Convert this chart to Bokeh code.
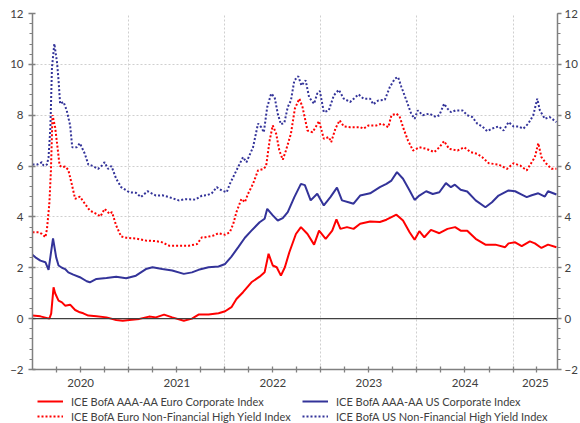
import pandas as pd
from bokeh.plotting import figure
from bokeh.layouts import column
from bokeh.models import (Range1d, LinearAxis, FixedTicker, SingleIntervalTicker, Grid,
                          CustomJSTickFormatter, Legend, LegendItem, Span)
from bokeh.embed import file_html
from bokeh.resources import INLINE

# ---------------- data ----------------
ec_dates = ["2020-01-01","2020-01-31","2020-02-19","2020-03-05","2020-03-12","2020-03-21","2020-03-27",
            "2020-04-09","2020-04-22","2020-05-04","2020-05-23","2020-06-11","2020-06-29","2020-07-12",
            "2020-07-31","2020-08-31","2020-10-08","2020-11-14","2020-12-09","2021-01-03","2021-02-10",
            "2021-03-19","2021-04-14","2021-05-15","2021-06-15","2021-07-29","2021-08-29","2021-09-23",
            "2021-10-31","2021-12-08","2022-01-02","2022-01-26","2022-02-14","2022-03-11","2022-04-12",
            "2022-05-13","2022-06-01","2022-06-16","2022-07-02","2022-07-17","2022-08-02","2022-08-17",
            "2022-09-03","2022-09-28","2022-10-17","2022-11-11","2022-12-06","2022-12-25","2023-01-19",
            "2023-02-13","2023-03-01","2023-03-16","2023-04-10","2023-05-05","2023-05-30","2023-07-07",
            "2023-08-13","2023-09-07","2023-10-15","2023-11-09","2023-12-04","2023-12-23","2024-01-10",
            "2024-01-29","2024-02-23","2024-03-26","2024-04-26","2024-05-25","2024-06-15","2024-07-10",
            "2024-08-11","2024-09-17","2024-10-25","2024-12-01","2024-12-14","2025-01-08","2025-02-02",
            "2025-03-05","2025-03-24","2025-04-18","2025-05-13","2025-06-14"]
ec_vals = [0.12,0.09,0.04,0.0,0.2,1.23,1.0,
           0.71,0.64,0.51,0.55,0.34,0.25,0.21,
           0.12,0.09,0.05,-0.05,-0.08,-0.05,-0.01,
           0.08,0.05,0.16,0.05,-0.08,0.0,0.16,
           0.16,0.21,0.29,0.45,0.77,1.04,1.43,
           1.65,1.82,2.55,2.09,2.02,1.69,2.02,
           2.61,3.33,3.6,3.33,2.91,3.46,3.14,
           3.46,3.9,3.53,3.6,3.53,3.73,3.82,
           3.8,3.89,4.09,3.86,3.4,3.1,3.44,
           3.2,3.49,3.36,3.53,3.6,3.46,3.46,
           3.14,2.91,2.91,2.81,2.96,3.0,2.85,
           3.04,2.96,2.78,2.91,2.81]

uc_dates = ["2020-01-01","2020-01-12","2020-01-31","2020-02-19","2020-03-02","2020-03-19","2020-03-31",
            "2020-04-09","2020-04-22","2020-05-04","2020-05-16","2020-06-04","2020-06-29","2020-07-25",
            "2020-08-06","2020-08-31","2020-10-08","2020-11-14","2020-12-22","2021-01-28","2021-03-07",
            "2021-04-01","2021-05-08","2021-06-15","2021-07-29","2021-08-29","2021-09-23","2021-10-31",
            "2021-12-08","2022-01-02","2022-01-26","2022-02-21","2022-03-18","2022-04-12","2022-05-13",
            "2022-06-01","2022-06-11","2022-07-02","2022-07-21","2022-08-09","2022-08-28","2022-09-22",
            "2022-10-17","2022-11-01","2022-11-23","2022-12-18","2023-01-12","2023-02-06","2023-03-03",
            "2023-03-22","2023-04-16","2023-05-05","2023-05-30","2023-07-07","2023-08-13","2023-09-07",
            "2023-09-26","2023-10-17","2023-11-09","2023-12-04","2023-12-23","2024-01-10","2024-02-05",
            "2024-03-01","2024-03-26","2024-04-20","2024-05-09","2024-05-24","2024-06-15","2024-07-10",
            "2024-08-11","2024-09-17","2024-10-12","2024-11-06","2024-12-14","2025-01-08","2025-02-02",
            "2025-02-21","2025-03-12","2025-04-06","2025-05-01","2025-05-13","2025-06-14"]
uc_vals = [2.51,2.41,2.28,2.22,1.92,3.16,2.41,
           2.09,2.0,1.95,1.82,1.73,1.63,1.47,
           1.43,1.56,1.6,1.65,1.59,1.69,1.95,
           2.02,1.95,1.89,1.76,1.82,1.92,2.02,
           2.05,2.15,2.44,2.81,3.18,3.46,3.79,
           3.93,4.32,4.06,3.86,3.95,4.19,4.78,
           5.3,5.25,4.65,4.91,4.45,4.78,5.15,
           4.65,4.58,4.52,4.84,4.93,5.17,5.3,
           5.43,5.76,5.5,5.04,4.67,4.84,5.01,
           4.9,4.97,5.33,5.17,5.27,5.07,5.0,
           4.65,4.38,4.58,4.84,5.04,5.01,4.88,
           4.78,4.85,4.93,4.8,5.01,4.88]

eh_dates = ["2020-01-01","2020-01-25","2020-02-06","2020-02-19","2020-02-25","2020-03-05","2020-03-11",
            "2020-03-17","2020-03-27","2020-04-05","2020-04-13","2020-04-22","2020-05-04","2020-05-16",
            "2020-05-29","2020-06-11","2020-06-29","2020-07-18","2020-08-06","2020-08-31","2020-09-15",
            "2020-10-01","2020-10-20","2020-10-29","2020-11-14","2020-12-03","2020-12-22","2021-01-28",
            "2021-03-07","2021-04-14","2021-05-08","2021-06-03","2021-07-10","2021-08-17","2021-09-17",
            "2021-10-06","2021-10-19","2021-11-19","2021-12-08","2022-01-02","2022-01-20","2022-02-02",
            "2022-02-14","2022-03-05","2022-03-18","2022-03-30","2022-04-18","2022-05-07","2022-05-29",
            "2022-06-07","2022-06-20","2022-07-02","2022-07-15","2022-07-27","2022-08-09","2022-08-21",
            "2022-09-09","2022-09-24","2022-10-11","2022-10-23","2022-11-11","2022-11-30","2022-12-12",
            "2022-12-25","2023-01-12","2023-01-31","2023-02-09","2023-02-25","2023-03-13","2023-03-29",
            "2023-04-22","2023-05-30","2023-06-12","2023-07-01","2023-08-01","2023-08-20","2023-09-14",
            "2023-09-26","2023-10-15","2023-10-27","2023-11-09","2023-11-28","2023-12-17","2024-01-10",
            "2024-02-05","2024-03-07","2024-03-26","2024-04-13","2024-05-02","2024-06-03","2024-06-28",
            "2024-07-23","2024-08-17","2024-09-05","2024-09-30","2024-11-06","2024-12-08","2025-01-02",
            "2025-01-27","2025-02-21","2025-03-12","2025-03-24","2025-04-06","2025-04-18","2025-05-07",
            "2025-05-26","2025-06-14"]
eh_vals = [3.4,3.4,3.33,3.2,3.53,4.52,5.83,
           8.0,7.53,6.74,6.02,5.96,5.98,5.85,
           5.3,4.71,4.8,4.52,4.25,4.12,4.02,
           4.32,4.12,4.19,3.66,3.23,3.18,3.15,
           3.07,3.05,3.0,2.87,2.87,2.87,2.93,
           3.2,3.2,3.27,3.36,3.3,3.4,3.73,
           4.19,4.71,4.58,4.91,5.3,5.83,5.89,
           6.02,7.0,7.6,7.27,6.61,6.25,6.61,
           7.27,8.26,8.65,8.32,7.4,7.33,7.53,
           7.77,7.07,7.14,6.94,7.47,7.8,7.56,
           7.53,7.53,7.47,7.6,7.6,7.67,7.53,
           8.0,8.06,7.95,7.53,7.0,6.61,6.74,
           6.68,6.55,6.74,6.98,6.68,6.61,6.74,
           6.55,6.48,6.35,6.11,6.06,5.89,6.11,
           6.02,5.83,6.15,6.35,6.9,6.35,6.09,
           5.89,5.89]

uh_dates = ["2020-01-01","2020-01-19","2020-02-06","2020-02-12","2020-02-25","2020-03-02","2020-03-09",
            "2020-03-15","2020-03-24","2020-04-03","2020-04-09","2020-04-15","2020-04-28","2020-05-10",
            "2020-05-23","2020-05-31","2020-06-17","2020-06-29","2020-07-18","2020-07-31","2020-08-18",
            "2020-09-06","2020-09-19","2020-10-01","2020-10-14","2020-10-27","2020-11-14","2020-12-03",
            "2021-01-03","2021-01-28","2021-02-16","2021-03-13","2021-04-14","2021-05-08","2021-06-03",
            "2021-07-10","2021-08-04","2021-09-11","2021-10-06","2021-10-25","2021-11-12","2021-12-01",
            "2021-12-20","2022-01-08","2022-01-20","2022-02-14","2022-03-11","2022-03-24","2022-04-18",
            "2022-05-07","2022-05-19","2022-05-29","2022-06-11","2022-06-26","2022-07-09","2022-07-21",
            "2022-08-02","2022-08-15","2022-08-28","2022-09-09","2022-09-22","2022-10-07","2022-10-19",
            "2022-11-04","2022-11-17","2022-12-06","2022-12-18","2022-12-28","2023-01-12","2023-01-31",
            "2023-02-19","2023-03-10","2023-03-29","2023-04-22","2023-05-24","2023-06-12","2023-07-07",
            "2023-07-19","2023-08-07","2023-09-01","2023-09-20","2023-10-09","2023-10-21","2023-11-03",
            "2023-11-22","2023-12-10","2023-12-23","2024-01-04","2024-01-23","2024-02-17","2024-03-13",
            "2024-03-26","2024-04-13","2024-04-26","2024-05-09","2024-05-27","2024-06-22","2024-07-10",
            "2024-07-29","2024-08-17","2024-09-05","2024-09-24","2024-10-12","2024-11-06","2024-11-25",
            "2024-12-14","2025-01-02","2025-01-20","2025-02-08","2025-02-27","2025-03-18","2025-04-02",
            "2025-04-12","2025-05-01","2025-05-19","2025-06-14"]
uh_vals = [6.06,6.06,6.15,6.02,6.06,6.35,7.53,
           9.89,10.81,10.09,9.37,8.45,8.52,8.19,
           7.6,6.74,6.74,6.9,6.48,6.06,6.0,
           5.89,6.0,6.15,5.89,6.0,5.5,5.17,
           4.97,4.95,4.78,5.01,4.84,4.85,4.78,
           4.65,4.7,4.68,4.84,4.85,4.93,5.17,
           5.04,4.97,5.3,5.83,6.35,6.15,6.74,
           7.67,7.53,7.33,8.32,8.85,8.71,8.06,
           7.64,7.7,8.32,8.58,9.37,9.53,9.17,
           9.37,8.71,8.45,8.85,8.95,8.12,8.19,
           8.78,9.0,8.65,8.52,8.82,8.65,8.65,
           8.43,8.58,8.61,9.11,9.44,9.5,9.11,
           8.58,8.06,7.86,8.19,8.0,8.06,7.93,
           8.0,8.45,8.26,8.12,8.19,8.19,8.0,
           7.93,7.67,7.56,7.37,7.47,7.56,7.4,
           7.73,7.56,7.56,7.47,7.67,8.0,8.65,
           8.19,7.86,7.93,7.73]

series_labels = ["ICE BofA AAA-AA Euro Corporate Index",
                 "ICE BofA AAA-AA US Corporate Index",
                 "ICE BofA Euro Non-Financial High Yield Index",
                 "ICE BofA US Non-Financial High Yield Index"]
year_labels = [2020, 2021, 2022, 2023, 2024, 2025]
x_start = "2020-01-01"
x_end = "2025-06-18"

# ---------------- helpers ----------------
def ms(s):
    return pd.Timestamp(s).value / 1e6

RED = "#FF0000"
BLUE = "#333399"
FONT = "Lato"
TXT = "#404040"
AX = "#808080"
W = 580

p = figure(width=W, height=390, x_axis_type=None, y_axis_type=None,
           x_range=Range1d(ms(x_start), ms(x_end)), y_range=Range1d(-2, 12),
           output_backend="svg", toolbar_location=None)
p.outline_line_color = None
p.min_border_left = 32
p.min_border_right = 0
p.min_border_top = 13
p.min_border_bottom = 21
p.background_fill_color = "white"

# ticks
boundaries = [ms(f"{y}-01-01") for y in year_labels[1:]]
quarters = [ms(f"{y}-{m:02d}-01") for y in year_labels for m in (4, 7, 10)
            if ms(f"{y}-{m:02d}-01") < ms(x_end)]
label_pos = []
for y in year_labels:
    a = ms(f"{y}-01-01")
    b = min(ms(f"{y+1}-01-01"), ms(x_end))
    label_pos.append((a + b) / 2)

# grids
p.add_layout(Grid(dimension=1, ticker=SingleIntervalTicker(interval=2),
                  grid_line_color="#cfcfcf", grid_line_dash="2 2", grid_line_width=1))
p.add_layout(Grid(dimension=0, ticker=FixedTicker(ticks=boundaries),
                  grid_line_color="#cfcfcf", grid_line_dash="2 2", grid_line_width=1))
p.add_layout(Span(location=0, dimension="width", line_color="#404040", line_width=1.2))

# lines
series = [(ec_dates, ec_vals), (uc_dates, uc_vals), (eh_dates, eh_vals), (uh_dates, uh_vals)]
line_styles = [dict(line_color=RED, line_width=2),
               dict(line_color=BLUE, line_width=2),
               dict(line_color=RED, line_width=2, line_dash="2 2"),
               dict(line_color=BLUE, line_width=2, line_dash="2 2")]
for (d, v), st in zip(series, line_styles):
    p.line(pd.to_datetime(d), v, **st)

# x axis: year labels centred in each year; year and quarter tick marks as minor ticks
xaxis = LinearAxis(ticker=FixedTicker(ticks=label_pos, minor_ticks=sorted(boundaries + quarters)),
                   formatter=CustomJSTickFormatter(code="return String(new Date(tick).getUTCFullYear());"),
                   axis_line_color=AX, axis_line_width=1.5,
                   major_tick_line_color=None, major_tick_in=0, major_tick_out=0,
                   minor_tick_line_color=AX, minor_tick_line_width=1.3,
                   minor_tick_in=3, minor_tick_out=3,
                   major_label_standoff=6,
                   major_label_text_font=FONT, major_label_text_font_size="11.5px",
                   major_label_text_color=TXT)
p.add_layout(xaxis, "below")

# y axes
def yaxis(side):
    return LinearAxis(ticker=SingleIntervalTicker(interval=2, num_minor_ticks=5),
                      axis_line_color=AX, axis_line_width=1.5,
                      major_tick_line_color=AX, major_tick_line_width=1.5,
                      major_tick_in=3 if side == "left" else 0, major_tick_out=4,
                      minor_tick_line_color=AX, minor_tick_line_width=1.2,
                      minor_tick_in=0, minor_tick_out=3,
                      major_label_standoff=5 if side == "left" else 3,
                      major_label_text_font=FONT, major_label_text_font_size="11.5px",
                      major_label_text_color=TXT)
p.add_layout(yaxis("left"), "left")
p.add_layout(yaxis("right"), "right")

# legend panel underneath the chart (same series, ranges chosen so that only the legend shows)
leg = figure(width=W, height=33, x_axis_type=None, y_axis_type=None,
             x_range=Range1d(0, 1), y_range=Range1d(-100, -99),
             output_backend="svg", toolbar_location=None)
leg.outline_line_color = None
leg.min_border = 0
leg.grid.visible = False
items = []
for lab, (d, v), st in zip(series_labels, series, line_styles):
    r = leg.line(pd.to_datetime(d), v, **st)
    items.append(LegendItem(label=lab, renderers=[r]))
legend = Legend(items=items, location=(5, 0), orientation="horizontal", ncols=2,
                label_text_font=FONT, label_text_font_size="11px", label_text_color=TXT,
                label_width=230, label_height=14, glyph_width=26, glyph_height=14,
                label_standoff=8, spacing=1, padding=0, margin=0,
                border_line_color=None, background_fill_alpha=0)
leg.add_layout(legend)

open("out.html", "w").write(file_html(column(p, leg, spacing=0), INLINE))
